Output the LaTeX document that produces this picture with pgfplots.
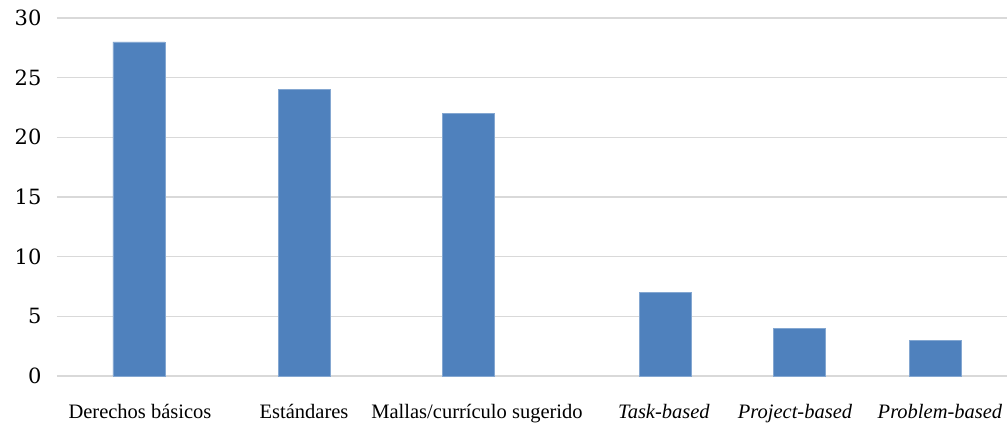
\documentclass[border=0pt]{standalone}
\usepackage{fontspec}
\setmainfont{Liberation Serif}
\newfontfamily\tickfont{DejaVu Serif}
\usepackage{pgfplots}
\pgfplotsset{compat=1.18}
\definecolor{barblue}{HTML}{4F81BD}
\definecolor{gridgray}{HTML}{D9D9D9}
\begin{document}
\begin{tikzpicture}[x=1pt,y=1pt]
\begin{axis}[
  name=ax,
  scale only axis,
  width=950pt, height=358pt,
  xmin=57, xmax=1007,
  ymin=0, ymax=30,
  ytick={0,5,...,30},
  xtick={140,304,477,664,795,940},
  xticklabels={Derechos básicos, Estándares, Mallas/currículo sugerido, \textit{Task-based}, \textit{Project-based}, \textit{Problem-based}},
  x tick label style={font=\fontsize{20.5}{22}\selectfont, yshift=-25pt},
  y tick label style={font=\tickfont\fontsize{21}{24}\selectfont, xshift=-12pt},
  /pgf/number format/assume math mode=true,
  ymajorgrids,
  grid style={gridgray, line width=1.2pt},
  axis line style={draw=none},
  major tick length=0pt,
  ytick style={draw=none}, xtick style={draw=none},
  clip=false,
]
\addplot[ybar, bar width=52, fill=barblue, draw=barblue!70!white, line width=0.6pt] coordinates {
  (139,28) (304,24) (468,22) (665.5,7) (799.5,4) (935.5,3)
};
\end{axis}
\pgfresetboundingbox
\path ([shift={(-57pt,-52pt)}]ax.south west) rectangle ([shift={(0pt,18pt)}]ax.north east);
\end{tikzpicture}
\end{document}
